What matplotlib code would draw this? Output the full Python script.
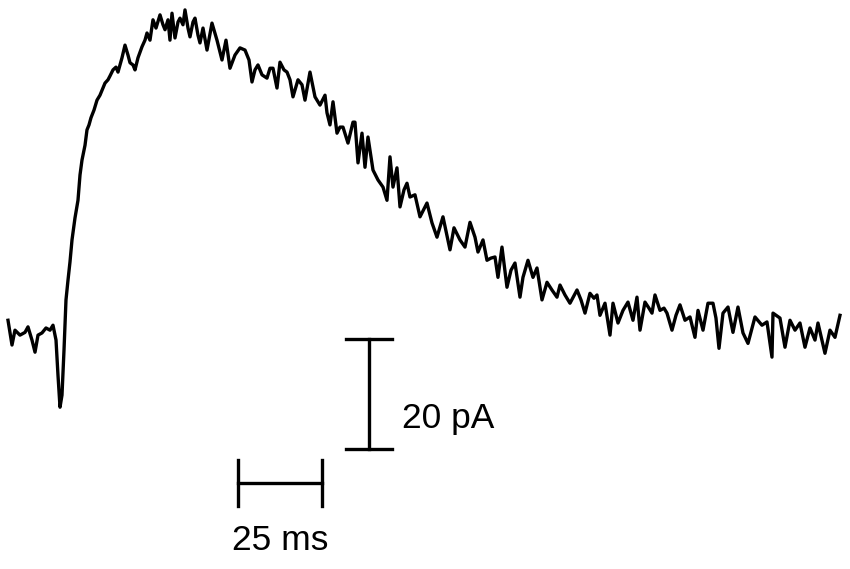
import matplotlib
matplotlib.use("Agg")
import matplotlib.pyplot as plt

# Recorded current trace (time in ms, current in pA)
time_ms = [
    0.00, 1.19, 2.08, 3.57, 5.06, 5.95, 7.14, 8.04, 8.93, 10.12, 11.31, 12.50, 13.39, 14.29,
    14.88, 15.48, 16.07, 16.67, 17.26, 17.86, 18.45, 19.05, 19.94, 20.83, 21.43, 22.02, 22.92,
    23.51, 24.11, 24.70, 25.60, 26.49, 27.38, 28.27, 28.87, 29.76, 30.36, 31.25, 32.14, 32.74,
    33.93, 34.82, 35.71, 36.31, 37.20, 37.80, 38.69, 39.88, 40.77, 41.37, 42.26, 43.15, 44.05,
    45.24, 46.13, 46.73, 47.62, 48.21, 48.81, 49.70, 50.60, 51.19, 52.08, 52.68, 53.57, 54.17,
    55.06, 55.65, 56.55, 57.14, 58.04, 59.23, 60.71, 62.20, 63.69, 64.88, 66.07, 67.56, 69.05,
    70.54, 71.73, 72.62, 73.51, 74.40, 75.60, 77.08, 77.98, 78.87, 80.06, 80.95, 82.14, 83.04,
    83.93, 84.82, 86.31, 87.50, 88.39, 89.88, 91.37, 92.86, 94.35, 94.94, 95.83, 96.73, 97.92,
    98.81, 99.70, 101.19, 102.68, 103.27, 104.17, 105.36, 106.25, 107.14, 108.63, 110.12,
    111.61, 112.80, 113.69, 114.58, 115.77, 116.67, 117.86, 118.75, 119.64, 121.13, 122.62,
    124.70, 126.19, 127.68, 129.46, 131.55, 132.74, 134.52, 136.01, 137.50, 138.99, 139.88,
    141.37, 142.56, 143.75, 144.94, 145.83, 147.02, 148.51, 149.70, 150.89, 152.38, 153.27,
    154.76, 156.25, 157.44, 158.93, 160.42, 161.90, 163.39, 164.29, 165.77, 167.26, 169.35,
    170.54, 171.73, 173.21, 174.40, 175.30, 176.19, 177.68, 179.17, 180.06, 181.55, 183.04,
    184.52, 186.01, 187.20, 188.10, 189.58, 190.77, 191.67, 192.56, 194.05, 195.24, 196.13,
    197.62, 198.81, 200.00, 201.49, 202.98, 204.46, 205.36, 206.85, 208.33, 209.82, 210.71,
    211.61, 212.80, 214.29, 215.77, 217.26, 218.75, 220.24, 222.32, 224.40, 225.89, 227.38,
    227.68, 229.76, 231.25, 232.74, 234.23, 235.71, 237.20, 238.69, 240.18, 241.07, 243.15,
    244.64, 246.13, 247.62,
]
current_pA = [
    2.7, -1.8, 0.9, 0.0, 0.5, 1.5, -0.9, -3.1, 0.0, 0.4, 1.3, 0.9, 1.8, -0.9,
    -7.3, -13.1, -10.9, -2.7, 6.4, 10.0, 13.3, 17.3, 21.3, 24.5, 29.1, 31.8, 34.5,
    37.3, 38.2, 39.5, 40.9, 42.7, 43.6, 44.9, 45.8, 46.4, 47.1, 48.2, 48.7, 47.8,
    50.4, 52.7, 50.9, 49.5, 49.1, 48.2, 50.4, 52.4, 53.6, 54.9, 53.6, 57.3, 55.8,
    58.2, 56.4, 55.5, 57.3, 53.6, 58.5, 54.0, 56.9, 57.6, 56.4, 59.1, 55.8, 54.2,
    56.9, 57.6, 54.5, 53.1, 55.8, 51.8, 56.7, 53.6, 50.0, 53.6, 48.5, 50.9, 52.2,
    51.8, 50.0, 46.0, 48.2, 49.1, 47.3, 46.7, 48.5, 48.5, 44.9, 49.6, 48.2, 47.8,
    46.4, 43.3, 46.4, 45.5, 42.7, 47.8, 43.3, 41.8, 43.6, 40.4, 38.2, 42.4, 36.7,
    37.8, 37.8, 34.9, 38.7, 38.7, 31.3, 36.7, 30.5, 36.0, 30.0, 28.2,
    26.9, 24.5, 32.4, 26.9, 30.4, 23.3, 26.4, 27.6, 25.1, 25.5, 21.5,
    24.0, 20.4, 17.8, 21.5, 15.5, 19.5, 17.3, 16.0, 20.5, 17.8, 15.1,
    17.3, 13.6, 14.0, 14.2, 10.5, 16.0, 8.7, 11.8, 13.1, 6.9, 10.5,
    13.6, 10.5, 12.2, 6.4, 9.6, 8.2, 6.9, 9.1, 7.3, 5.8, 8.2,
    6.4, 4.0, 7.6, 6.7, 7.3, 3.6, 5.8, 0.0, 5.8, 2.2, 4.5,
    6.0, 2.7, 6.9, 0.9, 6.0, 4.9, 4.0, 7.3, 4.5, 4.9, 4.0,
    0.9, 3.6, 5.5, 2.7, 3.3, -0.4, 4.5, 0.9, 5.8, 5.8, 3.1,
    -2.4, 4.0, 5.1, 0.5, 5.1, 0.4, -1.5, 3.3, 1.8, 2.4, -4.0,
    4.0, 3.1, -2.2, 2.7, 0.9, 2.2, -2.2, 1.3, -0.9, 2.2, -3.3,
    0.9, -0.4, 3.6,
]

# Scale bars
scale_time_ms = 25
scale_current_pA = 20
time_label = "25 ms"
current_label = "20 pA"

fig = plt.figure(figsize=(8.5, 5.69), dpi=100)
ax = fig.add_axes([0, 0, 1, 1])
ax.set_xlim(-2.38, 250.6)
ax.set_ylim(-42.5, 60.9)
ax.axis("off")

ink = "#000000"
lw = 2.4
ax.plot(time_ms, current_pA, color=ink, lw=lw, solid_joinstyle="round")

# vertical scale bar (current)
vx = 107.4
vy0 = -20.7
ax.plot([vx, vx], [vy0, vy0 + scale_current_pA], color=ink, lw=lw)
cap_w = 6.85
ax.plot([vx - cap_w, vx + cap_w], [vy0, vy0], color=ink, lw=lw)
ax.plot([vx - cap_w, vx + cap_w], [vy0 + scale_current_pA] * 2, color=ink, lw=lw)
ax.text(117.3, vy0 + scale_current_pA / 2 - 4.4, current_label, fontsize=25.5,
        family="Liberation Sans", ha="left", va="center", color=ink)

# horizontal scale bar (time)
hx0 = 68.5
hy = -26.9
cap_h = 4.2
ax.plot([hx0, hx0 + scale_time_ms], [hy, hy], color=ink, lw=lw)
ax.plot([hx0, hx0], [hy - cap_h, hy + cap_h], color=ink, lw=lw)
ax.plot([hx0 + scale_time_ms] * 2, [hy - cap_h, hy + cap_h], color=ink, lw=lw)
ax.text(hx0 + scale_time_ms / 2, -37.3, time_label, fontsize=25.5,
        family="Liberation Sans", ha="center", va="center", color=ink)

fig.savefig("out.png", dpi=100)
